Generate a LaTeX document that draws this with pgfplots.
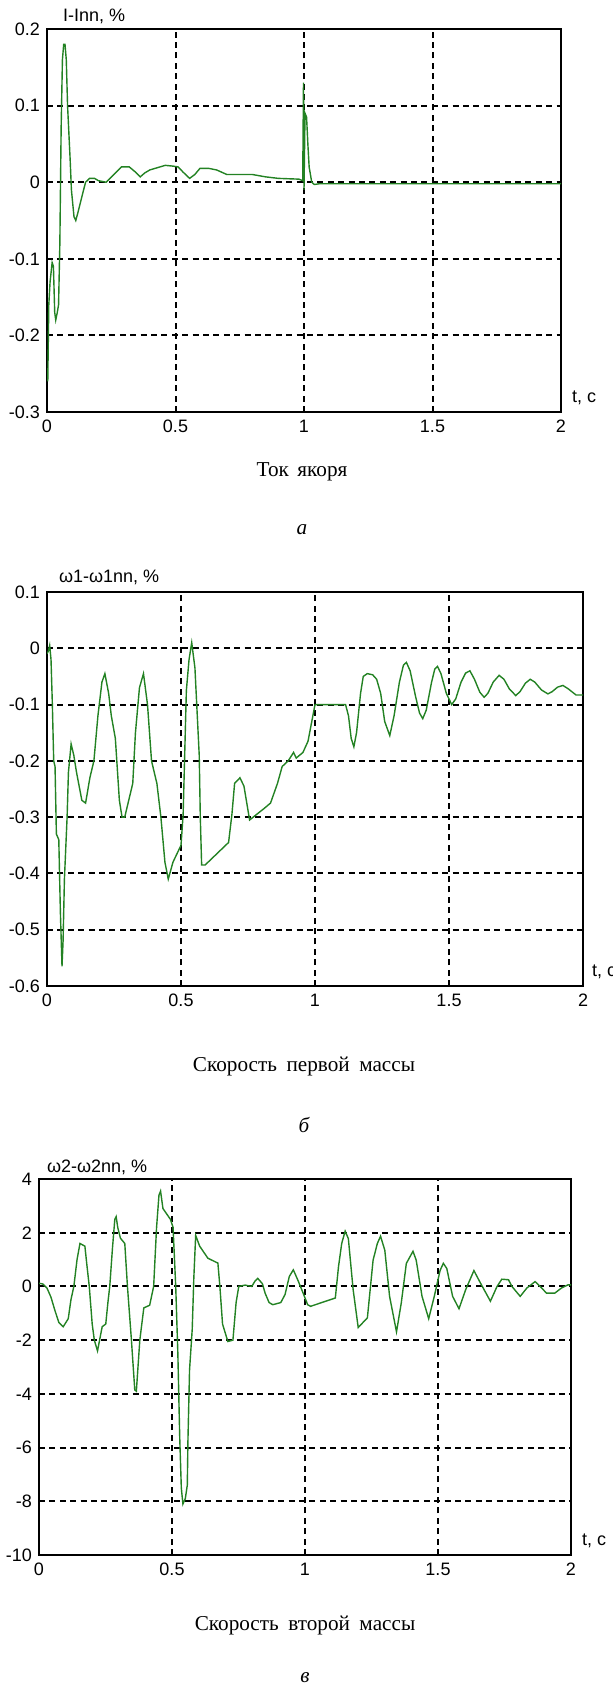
\documentclass[border=0pt]{standalone}
\usepackage{pgfplots}
\pgfplotsset{compat=1.18}
\usepackage{fontspec}
\setmainfont{Liberation Sans}
\newfontfamily\capfont{Liberation Serif}
\definecolor{mgreen}{RGB}{35,130,35}
\tikzset{mline/.style={mgreen, line width=0.7pt, mark=none}}
\pgfplotsset{
  mstyle/.style={
    scale only axis, xmin=0, xmax=2, clip mode=individual,
    xtick={0,0.5,1,1.5,2}, xticklabels={0,0.5,1,1.5,2},
    xmajorgrids, ymajorgrids, major tick length=0pt,
    major grid style={black, line width=1pt, dash pattern=on 3pt off 2.2pt},
    axis line style={black, line width=0.9pt},
    tick label style={font=\fontsize{9}{10}\selectfont},
    /pgf/number format/assume math mode=true,
    xticklabel style={yshift=-0.5pt},
  }
}
\begin{document}
\begin{tikzpicture}
\useasboundingbox (0pt,0pt) rectangle (306.5pt,-843pt);
% ---------- plot 1 ----------
\begin{axis}[mstyle, at={(23.5pt,-206pt)}, anchor=south west, width=257pt, height=191.5pt,
  ymin=-0.3, ymax=0.2, ytick={-0.3,-0.2,-0.1,0,0.1,0.2},
  yticklabels={-0.3,-0.2,-0.1,0,0.1,0.2}]
\addplot[mline] coordinates {
(0,-0.25)(0.003,-0.26)(0.007,-0.16)(0.012,-0.13)(0.02,-0.105)(0.025,-0.11)(0.03,-0.17)(0.034,-0.18)
(0.04,-0.17)(0.045,-0.16)(0.05,-0.08)(0.055,0.07)(0.06,0.16)(0.065,0.18)(0.07,0.18)(0.075,0.16)
(0.08,0.10)(0.09,0.03)(0.095,-0.01)(0.105,-0.045)(0.112,-0.05)(0.12,-0.04)(0.135,-0.02)(0.15,0.0)
(0.165,0.005)(0.185,0.005)(0.2,0.002)(0.23,0.0)(0.26,0.01)(0.29,0.02)(0.32,0.02)(0.345,0.013)
(0.363,0.007)(0.38,0.012)(0.40,0.016)(0.43,0.019)(0.46,0.022)(0.49,0.021)(0.51,0.02)(0.53,0.013)
(0.555,0.005)(0.575,0.01)(0.595,0.018)(0.63,0.018)(0.66,0.016)(0.70,0.01)(0.80,0.01)(0.85,0.007)
(0.90,0.005)(0.98,0.004)(0.995,0.002)(0.998,0.13)(1.0,-0.01)(1.004,0.09)(1.01,0.085)(1.015,0.05)
(1.02,0.02)(1.03,0.0)(1.04,-0.003)(1.06,-0.002)(2.0,-0.002)
};
\node[anchor=west, font=\fontsize{9}{10}\selectfont] at (rel axis cs:0,1) [xshift=4.5pt, yshift=6.5pt] {I-Inn, \%};
\node[anchor=west, font=\fontsize{9}{10}\selectfont] at (rel axis cs:1,0) [xshift=2pt, yshift=7pt] {t, c};
\end{axis}
\node[font=\capfont\fontsize{10.6}{12}\selectfont] at (151pt,-236pt) {Ток\hspace{0.4em}якоря};
\node[font=\capfont\itshape\fontsize{10.6}{12}\selectfont] at (151pt,-265pt) {а};
% ---------- plot 2 ----------
\begin{axis}[mstyle, at={(23.5pt,-493pt)}, anchor=south west, width=268pt, height=197pt,
  ymin=-0.6, ymax=0.1, ytick={-0.6,-0.5,-0.4,-0.3,-0.2,-0.1,0,0.1},
  yticklabels={-0.6,-0.5,-0.4,-0.3,-0.2,-0.1,0,0.1}]
\addplot[mline] coordinates {
(0,-0.01)(0.005,-0.005)(0.01,0.005)(0.015,-0.02)(0.02,-0.1)(0.025,-0.2)(0.03,-0.21)(0.035,-0.33)
(0.044,-0.34)(0.05,-0.47)(0.056,-0.565)(0.06,-0.52)(0.065,-0.41)(0.075,-0.30)(0.08,-0.22)(0.09,-0.17)
(0.1,-0.19)(0.11,-0.22)(0.13,-0.27)(0.144,-0.275)(0.16,-0.23)(0.175,-0.2)(0.19,-0.12)(0.205,-0.06)
(0.216,-0.045)(0.23,-0.08)(0.24,-0.12)(0.255,-0.16)(0.27,-0.27)(0.28,-0.30)(0.29,-0.30)(0.305,-0.27)
(0.32,-0.24)(0.33,-0.15)(0.345,-0.07)(0.36,-0.045)(0.375,-0.1)(0.39,-0.2)(0.41,-0.24)(0.425,-0.3)
(0.44,-0.38)(0.4525,-0.41)(0.47,-0.38)(0.5,-0.35)(0.508,-0.295)(0.52,-0.075)(0.53,-0.02)(0.54,0.01)
(0.552,-0.035)(0.568,-0.19)(0.572,-0.3)(0.577,-0.385)(0.59,-0.385)(0.6775,-0.345)(0.69,-0.295)
(0.70,-0.24)(0.72,-0.23)(0.735,-0.245)(0.756,-0.305)(0.809,-0.285)(0.834,-0.275)(0.86,-0.24)
(0.8775,-0.21)(0.90,-0.2)(0.92,-0.185)(0.93,-0.195)(0.955,-0.185)(0.974,-0.165)(0.99,-0.125)
(1.0,-0.1)(1.114,-0.1)(1.125,-0.12)(1.135,-0.16)(1.145,-0.175)(1.155,-0.15)(1.17,-0.08)(1.18,-0.05)
(1.195,-0.045)(1.215,-0.047)(1.23,-0.055)(1.245,-0.08)(1.26,-0.13)(1.279,-0.155)(1.295,-0.12)
(1.315,-0.06)(1.33,-0.03)(1.341,-0.025)(1.355,-0.04)(1.375,-0.085)(1.39,-0.115)(1.402,-0.125)
(1.415,-0.11)(1.435,-0.06)(1.447,-0.037)(1.457,-0.032)(1.47,-0.045)(1.49,-0.08)(1.51,-0.1)
(1.525,-0.09)(1.545,-0.06)(1.562,-0.044)(1.578,-0.04)(1.595,-0.055)(1.615,-0.078)(1.631,-0.087)
(1.645,-0.08)(1.665,-0.06)(1.687,-0.048)(1.705,-0.055)(1.725,-0.072)(1.749,-0.084)(1.765,-0.077)
(1.785,-0.062)(1.803,-0.055)(1.82,-0.06)(1.845,-0.074)(1.869,-0.081)(1.885,-0.077)(1.905,-0.069)
(1.925,-0.066)(1.945,-0.072)(1.974,-0.083)(2.0,-0.083)
};
\node[anchor=west, font=\fontsize{9}{10}\selectfont] at (rel axis cs:0,1) [xshift=2.5pt, yshift=7.5pt] {ω1-ω1nn, \%};
\node[anchor=west, font=\fontsize{9}{10}\selectfont] at (rel axis cs:1,0) [xshift=1pt, yshift=7pt] {t, c};
\end{axis}
\node[font=\capfont\fontsize{10.6}{12}\selectfont] at (152pt,-533pt) {Скорость\hspace{0.45em}первой\hspace{0.45em}массы};
\node[font=\capfont\itshape\fontsize{10.6}{12}\selectfont] at (152pt,-562.5pt) {б};
% ---------- plot 3 ----------
\begin{axis}[mstyle, at={(19.5pt,-777.5pt)}, anchor=south west, width=266pt, height=188pt,
  ymin=-10, ymax=4, ytick={-10,-8,-6,-4,-2,0,2,4},
  yticklabels={-10,-8,-6,-4,-2,0,2,4}]
\addplot[mline] coordinates {
(0,0.12)(0.015,0.09)(0.03,-0.06)(0.045,-0.4)(0.06,-0.9)(0.075,-1.35)(0.091,-1.5)(0.11,-1.2)
(0.12,-0.5)(0.131,0.0)(0.143,1.0)(0.154,1.6)(0.1725,1.5)(0.18,0.8)(0.189,0.0)(0.2,-1.4)
(0.208,-2.0)(0.22,-2.4)(0.2375,-1.5)(0.251,-1.4)(0.259,-0.6)(0.266,0.0)(0.276,1.4)(0.285,2.5)
(0.29,2.6)(0.296,2.2)(0.306,1.8)(0.3225,1.6)(0.3325,0.0)(0.3475,-2.0)(0.36,-3.85)(0.366,-3.9)
(0.379,-2.0)(0.394,-0.8)(0.416,-0.7)(0.431,0.0)(0.442,2.2)(0.451,3.4)(0.457,3.55)(0.466,2.9)
(0.494,2.5)(0.504,2.2)(0.514,0.0)(0.522,-2.5)(0.529,-5.6)(0.535,-7.5)(0.541,-8.1)(0.55,-7.9)
(0.5575,-7.4)(0.56,-5.7)(0.566,-3.1)(0.576,-1.6)(0.582,0.3)(0.589,1.9)(0.604,1.5)(0.635,1.05)
(0.6725,0.87)(0.68,0.0)(0.69,-1.4)(0.71,-2.05)(0.729,-2.0)(0.741,-0.6)(0.751,0.0)(0.775,0.05)
(0.80,0.0)(0.812,0.2)(0.8225,0.3)(0.84,0.1)(0.85,-0.25)(0.865,-0.6)(0.879,-0.68)(0.909,-0.6)
(0.925,-0.3)(0.941,0.37)(0.956,0.62)(0.9725,0.25)(0.991,-0.2)(1.01,-0.68)(1.021,-0.74)
(1.114,-0.43)(1.126,0.74)(1.138,1.6)(1.151,2.06)(1.163,1.78)(1.181,-0.12)(1.20,-1.53)
(1.2345,-1.17)(1.256,0.98)(1.272,1.6)(1.284,1.87)(1.30,1.35)(1.318,-0.37)(1.344,-1.69)
(1.362,-0.61)(1.381,0.86)(1.406,1.31)(1.418,0.98)(1.44,-0.37)(1.465,-1.2)(1.486,-0.37)
(1.508,0.6)(1.52,0.86)(1.533,0.67)(1.555,-0.37)(1.579,-0.83)(1.604,-0.12)(1.635,0.59)
(1.66,0.12)(1.697,-0.55)(1.722,0.0)(1.74,0.27)(1.765,0.25)(1.778,0.0)(1.809,-0.37)(1.834,-0.06)
(1.865,0.18)(1.884,0.0)(1.908,-0.25)(1.939,-0.25)(1.964,-0.06)(1.989,0.06)(2.0,0.06)
};
\node[anchor=west, font=\fontsize{9}{10}\selectfont] at (rel axis cs:0,1) [xshift=0.5pt, yshift=6pt] {ω2-ω2nn, \%};
\node[anchor=west, font=\fontsize{9}{10}\selectfont] at (rel axis cs:1,0) [xshift=2pt, yshift=7pt] {t, c};
\end{axis}
\node[font=\capfont\fontsize{10.6}{12}\selectfont] at (152.5pt,-812.5pt) {Скорость\hspace{0.45em}второй\hspace{0.45em}массы};
\node[font=\capfont\itshape\fontsize{10.6}{12}\selectfont] at (152.5pt,-839pt) {в};
\end{tikzpicture}
\end{document}
